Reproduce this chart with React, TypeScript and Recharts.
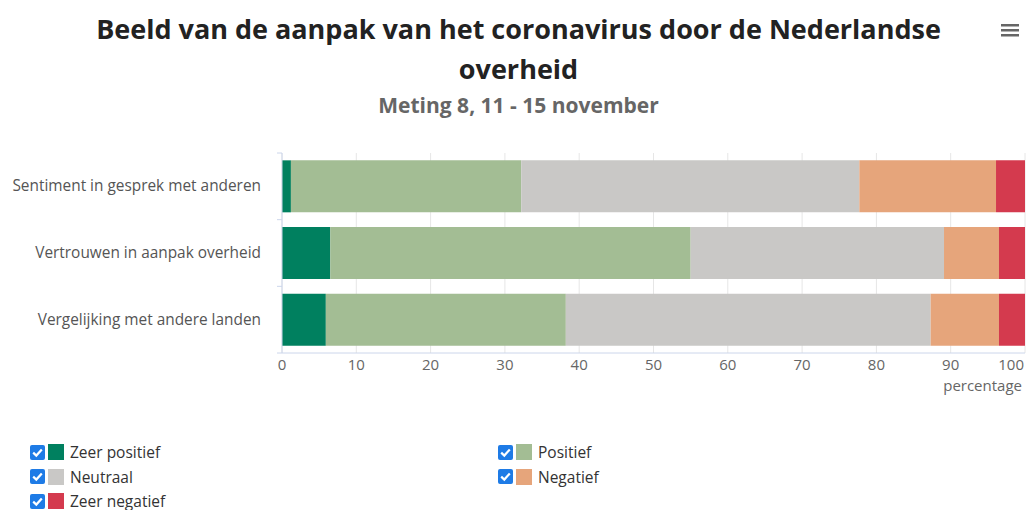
import { BarChart, Bar, XAxis, YAxis, CartesianGrid } from "recharts";

const categories = [
  "Sentiment in gesprek met anderen",
  "Vertrouwen in aanpak overheid",
  "Vergelijking met andere landen",
];
const seriesNames = ["Zeer positief", "Positief", "Neutraal", "Negatief", "Zeer negatief"];
const seriesColors = ["#00805f", "#a3bd94", "#c9c8c6", "#e6a57b", "#d43a4e"];
const zeerPositief = [1.2, 6.5, 5.9];
const positief = [31.0, 48.5, 32.3];
const neutraal = [45.5, 34.1, 49.1];
const negatief = [18.4, 7.4, 9.2];
const zeerNegatief = [3.9, 3.5, 3.5];
const xTicks = [0, 10, 20, 30, 40, 50, 60, 70, 80, 90, 100];

const seriesValues = [zeerPositief, positief, neutraal, negatief, zeerNegatief];
const data = categories.map((name, i) => {
  const row: any = { name };
  seriesNames.forEach((s, j) => {
    row[s] = seriesValues[j][i];
  });
  return row;
});

const font = "'Open Sans', sans-serif";

// category labels plus the small marks Highcharts puts between categories
const CategoryTick = ({ x, y, payload }: any) => {
  const off = payload.offset ?? 0;
  const last = payload.index === categories.length - 1;
  return (
    <g>
      <line x1={x - 5} x2={x} y1={y - off} y2={y - off} stroke="#ccd6eb" />
      {last && <line x1={x - 5} x2={x} y1={y + off} y2={y + off} stroke="#ccd6eb" />}
      <text x={x - 21} y={y} dy={5} textAnchor="end" fill="#555" fontSize={15.4} fontFamily={font}>
        {payload.value}
      </text>
    </g>
  );
};

// last label is pulled inside the plot, like Highcharts does
const ValueTick = ({ x, y, payload }: any) => {
  const isLast = payload.value === xTicks[xTicks.length - 1];
  return (
    <text
      x={isLast ? x - 1 : x}
      y={y}
      dy={11}
      textAnchor={isLast ? "end" : "middle"}
      fill="#666"
      fontSize={15}
      fontFamily={font}
    >
      {payload.value}
    </text>
  );
};

const Check = () => (
  <svg width={15} height={15} style={{ display: "block" }}>
    <rect x={0} y={0} width={15} height={15} rx={2} fill="#1e7be6" />
    <path d="M3.2 7.6 L6.3 10.6 L11.8 4.4" stroke="#fff" strokeWidth={2.2} fill="none" />
  </svg>
);

const LegendItem = ({ i, left, top }: any) => (
  <div style={{ position: "absolute", left, top, display: "flex", alignItems: "center", height: 16 }}>
    <Check />
    <div style={{ width: 16, height: 16, background: seriesColors[i], marginLeft: 3 }} />
    <span style={{ marginLeft: 6, fontSize: 15.5, color: "#333", fontFamily: font }}>{seriesNames[i]}</span>
  </div>
);

export default function App() {
  return (
    <div style={{ position: "absolute", left: 0, top: 0, width: 1027, height: 510, background: "#fff", fontFamily: font }}>
      <div
        style={{
          position: "absolute",
          left: 5,
          top: 9,
          width: 1027,
          textAlign: "center",
          fontSize: 27,
          fontWeight: 700,
          color: "#222",
          lineHeight: "40px",
        }}
      >
        Beeld van de aanpak van het coronavirus door de Nederlandse
        <br />
        overheid
      </div>
      <div
        style={{
          position: "absolute",
          left: 5,
          top: 91,
          width: 1027,
          textAlign: "center",
          fontSize: 21,
          fontWeight: 700,
          color: "#666",
        }}
      >
        Meting 8, 11 - 15 november
      </div>
      <svg width={20} height={16} style={{ position: "absolute", left: 1000, top: 22 }}>
        <rect x={1} y={2} width={18} height={2.5} fill="#666" />
        <rect x={1} y={7} width={18} height={2.5} fill="#666" />
        <rect x={1} y={12} width={18} height={2.5} fill="#666" />
      </svg>

      <div style={{ position: "absolute", left: 0, top: 0 }}>
        <BarChart
          width={1027}
          height={420}
          data={data}
          layout="vertical"
          barCategoryGap="11%"
          margin={{ top: 153, right: 2, bottom: 26, left: 0 }}
        >
          <CartesianGrid vertical horizontal={false} stroke="#e6e6e6" />
          <XAxis
            type="number"
            domain={[0, 100]}
            ticks={xTicks}
            height={41}
            tickLine={false}
            tickSize={0}
            tickMargin={6}
            axisLine={{ stroke: "#ccd6eb" }}
            tick={<ValueTick />}
            interval={0}
            label={{
              value: "percentage",
              position: "insideBottomRight",
              offset: 3,
              fill: "#666",
              fontSize: 15,
              fontFamily: font,
            }}
          />
          <YAxis
            type="category"
            dataKey="name"
            width={282}
            tickSize={0}
            tickMargin={0}
            tickLine={false}
            axisLine={{ stroke: "#ccd6eb" }}
            tick={<CategoryTick />}
            interval={0}
          />
          {seriesNames.map((s, j) => (
            <Bar key={s} dataKey={s} stackId="a" fill={seriesColors[j]} isAnimationActive={false} />
          ))}
        </BarChart>
      </div>

      {seriesNames.map((s, i) => (
        <LegendItem key={s} i={i} left={i % 2 === 0 ? 30 : 498} top={444 + Math.floor(i / 2) * 24.5} />
      ))}
    </div>
  );
}
